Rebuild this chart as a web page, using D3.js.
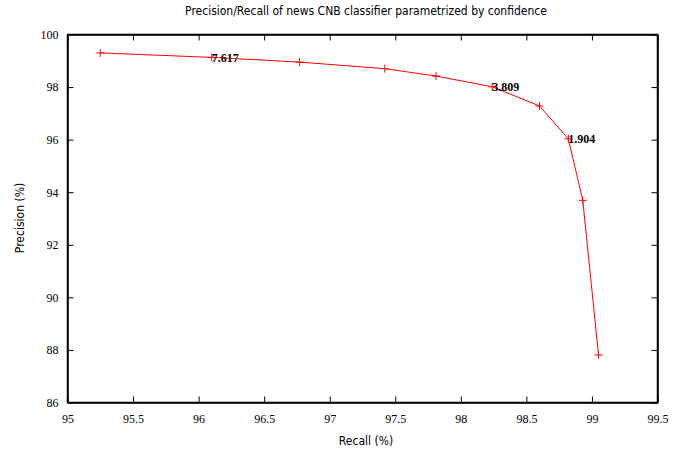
<!DOCTYPE html>
<html>
<head>
<meta charset="utf-8">
<script src="https://cdn.jsdelivr.net/npm/d3@7"></script>
<style>
  body { margin: 0; background: #fff; }
  .tick text { font-family: "Liberation Serif", serif; font-size: 12px; fill: #000; }
  .lbl { font-family: "DejaVu Sans Condensed", "DejaVu Sans", sans-serif; font-size: 12px; fill: #000; }
</style>
</head>
<body>
<script>
var recall    = [95.25, 96.10, 96.77, 97.42, 97.81, 98.24, 98.60, 98.82, 98.93, 99.05];
var precision = [99.30, 99.13, 98.95, 98.70, 98.42, 98.01, 97.28, 96.03, 93.69, 87.81];
var confLabels = [null, "7.617", null, null, null, "3.809", null, "1.904", null, null];
var xTicks = [95, 95.5, 96, 96.5, 97, 97.5, 98, 98.5, 99, 99.5];
var yTicks = [86, 88, 90, 92, 94, 96, 98, 100];

var width = 692,
    height = 453;
var m = {left: 67.5, right: 34.5, top: 34.5, bottom: 50.5};

var svg = d3.select("body").append("svg")
    .attr("width", width)
    .attr("height", height);

var x = d3.scaleLinear().domain([95, 99.5]).range([m.left, width - m.right]);
var y = d3.scaleLinear().domain([86, 100]).range([height - m.bottom, m.top]);

var data = recall.map(function(r, i) {
  return {r: r, p: precision[i], label: confLabels[i]};
});

// axes, ticks pointing inward, mirrored on top/right
svg.append("g")
    .attr("transform", "translate(0," + y(86) + ")")
    .call(d3.axisBottom(x).tickValues(xTicks).tickFormat(d3.format("")).tickSizeInner(-6).tickSizeOuter(0).tickPadding(12));
svg.append("g")
    .attr("transform", "translate(0," + y(100) + ")")
    .call(d3.axisTop(x).tickValues(xTicks).tickFormat("").tickSizeInner(-6).tickSizeOuter(0));
svg.append("g")
    .attr("transform", "translate(" + x(95) + ",0)")
    .call(d3.axisLeft(y).tickValues(yTicks).tickFormat(d3.format("")).tickSizeInner(-6).tickSizeOuter(0).tickPadding(9));
svg.append("g")
    .attr("transform", "translate(" + x(99.5) + ",0)")
    .call(d3.axisRight(y).tickValues(yTicks).tickFormat("").tickSizeInner(-6).tickSizeOuter(0));

svg.selectAll(".domain").attr("stroke", "#000").attr("stroke-width", 1.5);
svg.selectAll(".tick line").attr("stroke", "#000");

// border
svg.append("rect")
    .attr("x", x(95)).attr("y", y(100))
    .attr("width", x(99.5) - x(95)).attr("height", y(86) - y(100))
    .attr("fill", "none").attr("stroke", "#000").attr("stroke-width", 1.5);

// line
var line = d3.line().x(function(d){ return x(d.r); }).y(function(d){ return y(d.p); });
svg.append("path")
    .datum(data)
    .attr("d", line)
    .attr("fill", "none")
    .attr("stroke", "#ff0000")
    .attr("stroke-width", 1);

// + markers
svg.selectAll("path.pt")
    .data(data)
  .enter().append("path")
    .attr("class", "pt")
    .attr("d", function(d) {
      var cx = x(d.r), cy = y(d.p), s = 4;
      return "M" + (cx - s) + "," + cy + "H" + (cx + s) + "M" + cx + "," + (cy - s) + "V" + (cy + s);
    })
    .attr("stroke", "#ff0000")
    .attr("stroke-width", 1);

// confidence labels
svg.selectAll("text.conf")
    .data(data.filter(function(d){ return d.label; }))
  .enter().append("text")
    .attr("class", "conf")
    .attr("x", function(d){ return x(d.r); })
    .attr("y", function(d){ return y(d.p); })
    .attr("dy", "0.35em")
    .attr("font-family", "Liberation Serif, serif")
    .attr("font-size", 12)
    .attr("font-weight", "bold")
    .text(function(d){ return d.label; });

// titles
svg.append("text").attr("class", "lbl")
    .attr("x", 366).attr("y", 15).attr("text-anchor", "middle")
    .text("Precision/Recall of news CNB classifier parametrized by confidence");
svg.append("text").attr("class", "lbl")
    .attr("x", 366).attr("y", 445).attr("text-anchor", "middle")
    .text("Recall (%)");
svg.append("text").attr("class", "lbl")
    .attr("transform", "translate(24," + 218 + ") rotate(-90)")
    .attr("text-anchor", "middle")
    .text("Precision (%)");
</script>
</body>
</html>
